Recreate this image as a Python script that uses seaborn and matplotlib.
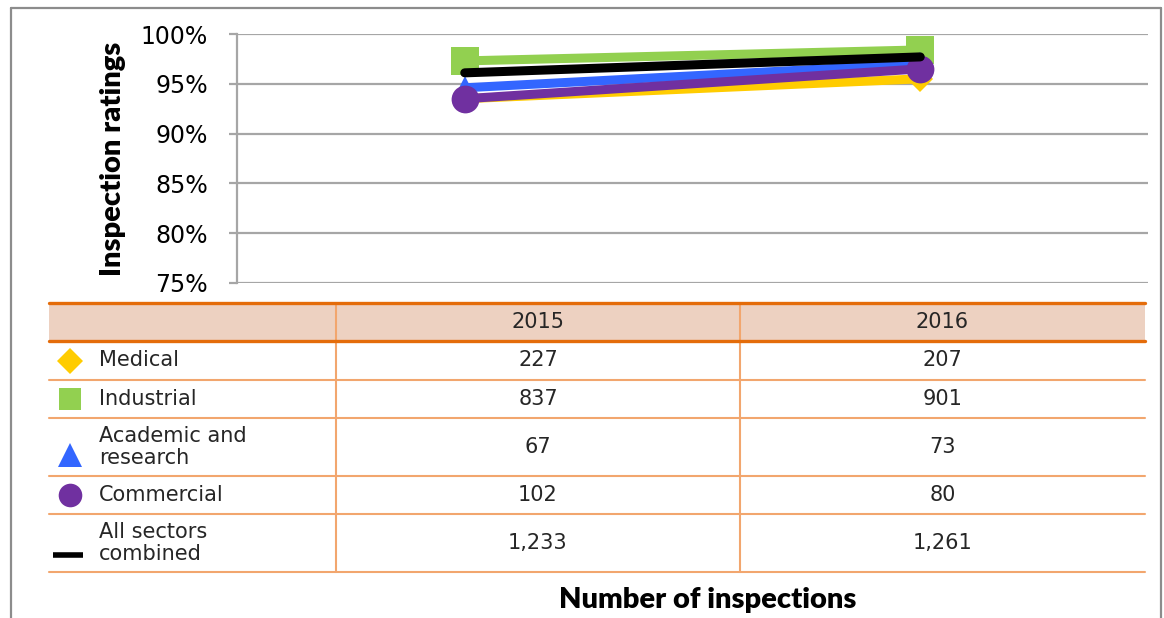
import matplotlib
matplotlib.use("Agg")
import matplotlib.pyplot as plt
from matplotlib.lines import Line2D
from matplotlib.patches import Rectangle
from matplotlib.ticker import PercentFormatter, FixedLocator
import seaborn as sns
import pandas as pd

# ---------------- data ----------------
years = ["2015", "2016"]
sectors = ["Medical", "Industrial", "Academic and research", "Commercial", "All sectors combined"]
table_labels = ["Medical", "Industrial", "Academic and\nresearch", "Commercial", "All sectors\ncombined"]
medical = [0.935, 0.955]
industrial = [0.973, 0.984]
academic = [0.946, 0.970]
commercial = [0.935, 0.965]
all_sectors = [0.961, 0.977]
inspections_2015 = ["227", "837", "67", "102", "1,233"]
inspections_2016 = ["207", "901", "73", "80", "1,261"]
yticks = [0.75, 0.80, 0.85, 0.90, 0.95, 1.00]

series = [medical, industrial, academic, commercial, all_sectors]
colors = ["#FFCC00", "#92D050", "#3366FF", "#7030A0", "#000000"]
markers = ["D", "s", "^", "o", None]
msizes = [13, 19.5, 17, 20, 0]

W, H = 1164, 618
def fx(px):
    return px / W
def fy(py):
    return 1 - py / H

sns.set_theme(style="white")
plt.rcParams["font.family"] = ["DejaVu Sans"]

fig = plt.figure(figsize=(W / 100, H / 100), dpi=100)
ax = fig.add_axes([fx(237), fy(283), fx(1148) - fx(237), fy(34) - fy(283)])

for name, vals, col, mk, ms in zip(sectors, series, colors, markers, msizes):
    df = pd.DataFrame({"Year": years, "Rating": vals})
    kw = dict(marker=mk, markersize=ms, markeredgewidth=0) if mk else {}
    sns.lineplot(data=df, x="Year", y="Rating", color=col, linewidth=6.5, ax=ax,
                 solid_capstyle="round", legend=False, **kw)

ax.set_xlim(-0.5, 1.5)
ax.set_ylim(0.75, 1.0)
ax.yaxis.set_major_locator(FixedLocator(yticks))
ax.yaxis.set_major_formatter(PercentFormatter(1.0, decimals=0))
ax.grid(axis="y", color="#A6A6A6", linewidth=1.6)
ax.grid(axis="x", visible=False)
for s in ["top", "right", "bottom"]:
    ax.spines[s].set_visible(False)
ax.spines["left"].set_color("#A6A6A6")
ax.spines["left"].set_linewidth(1.6)
ax.set_xticks([])
ax.set_xlabel("")
ax.tick_params(axis="y", which="major", left=True, length=6, width=1.6, color="#A6A6A6",
               pad=15, labelsize=17, labelcolor="#000000")
ax.set_ylabel("Inspection ratings", fontsize=21, fontweight="heavy", family=["Lato", "DejaVu Sans"],
              color="#000000")
ax.yaxis.set_label_coords(fx(113), (fy(34) + fy(283)) / 2, transform=fig.transFigure)
ax.yaxis.label.set_va("center")

# ---------------- outer frame ----------------
frame_col = "#8C8C8C"
fig.add_artist(Line2D([fx(11), fx(11)], [fy(8), 0], color=frame_col, lw=1.6, transform=fig.transFigure))
fig.add_artist(Line2D([fx(11), fx(1161)], [fy(8), fy(8)], color=frame_col, lw=1.6, transform=fig.transFigure))
fig.add_artist(Line2D([fx(1161), fx(1161)], [fy(8), 0], color=frame_col, lw=1.6, transform=fig.transFigure))

# ---------------- data table ----------------
tl, tr = 49, 1145
c1, c2 = 336, 740
head_top, head_bot = 303, 341
row_bounds = [341, 380, 418, 476, 514, 572]
thick = "#E46C0A"
thin = "#F2A66E"
fig.add_artist(Rectangle((fx(tl), fy(head_bot)), fx(tr) - fx(tl), fy(head_top) - fy(head_bot),
                         facecolor="#EDD1C1", edgecolor="none", transform=fig.transFigure))
for xv in [c1, c2]:
    fig.add_artist(Line2D([fx(xv), fx(xv)], [fy(head_top), fy(row_bounds[-1])], color=thin, lw=1.5,
                          transform=fig.transFigure))
for yb in row_bounds[1:]:
    fig.add_artist(Line2D([fx(tl), fx(tr)], [fy(yb), fy(yb)], color=thin, lw=1.5, transform=fig.transFigure))
for yb in [head_top, head_bot]:
    fig.add_artist(Line2D([fx(tl), fx(tr)], [fy(yb), fy(yb)], color=thick, lw=2.4, transform=fig.transFigure))

txt_col = "#262626"
col1_c = (c1 + c2) / 2
col2_c = (c2 + tr) / 2
fs = 15
fig.text(fx(col1_c), fy((head_top + head_bot) / 2), years[0], ha="center", va="center", fontsize=fs, color=txt_col)
fig.text(fx(col2_c), fy((head_top + head_bot) / 2), years[1], ha="center", va="center", fontsize=fs, color=txt_col)
for i, (lab, v15, v16, col, mk) in enumerate(zip(table_labels, inspections_2015, inspections_2016, colors, markers)):
    yc = (row_bounds[i] + row_bounds[i + 1]) / 2
    fig.text(fx(99), fy(yc), lab, ha="left", va="center", fontsize=fs, color=txt_col, linespacing=1.15)
    fig.text(fx(col1_c), fy(yc), v15, ha="center", va="center", fontsize=fs, color=txt_col)
    fig.text(fx(col2_c), fy(yc), v16, ha="center", va="center", fontsize=fs, color=txt_col)
    if mk:
        sz = {"D": 13, "s": 16, "^": 17, "o": 17}[mk]
        yy = yc + (8 if mk == "^" else 0)
        fig.add_artist(Line2D([fx(70)], [fy(yy)], marker=mk, markersize=sz, color=col, markeredgewidth=0,
                              linestyle="none", transform=fig.transFigure))
    else:
        fig.add_artist(Line2D([fx(53), fx(83)], [fy(yc + 12), fy(yc + 12)], color=col, lw=4,
                              solid_capstyle="butt", transform=fig.transFigure))

fig.text(fx(708), fy(600), "Number of inspections", ha="center", va="center", fontsize=21,
         fontweight="heavy", family=["Lato", "DejaVu Sans"], color="#000000")

fig.savefig("out.png", dpi=100)
